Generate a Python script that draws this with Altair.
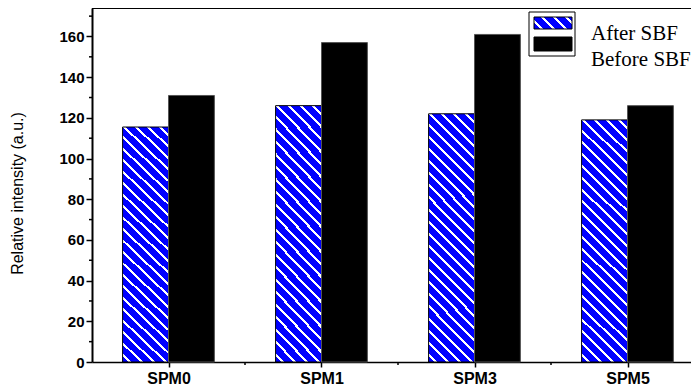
import json
import altair as alt
import pandas as pd

# ---- data ----
categories = ["SPM0", "SPM1", "SPM3", "SPM5"]
positions = [1, 2, 3, 4]
after_sbf = [115.5, 126, 122, 119]
before_sbf = [131, 157, 161, 126]
series_names = ["After SBF", "Before SBF"]
y_major = [0, 20, 40, 60, 80, 100, 120, 140, 160]
y_minor = [10, 30, 50, 70, 90, 110, 130, 150, 170]
x_minor = [1.5, 2.5, 3.5]

# ---- layout ----
W, H = 599, 354
STEP = 153.0
XMIN = 0.5
XMAX = XMIN + W / STEP
YMAX = 174
BW = 0.30  # bar width in category units

FONT = "Liberation Sans"
SERIF = "Liberation Serif"
BLUE = "#0000ff"


def stripe_gradient(k, period_px, white_px, width_px):
    """diagonal white stripes on blue, as a hard-stop linear gradient
    (k = height/width of the shape the gradient is stretched over)"""
    s = (1 + k) / (1 + k * k)
    dt = 1.0 / ((1 + k) * width_px)  # gradient offset per pixel along x
    per = period_px * dt
    wid = white_px * dt
    stops = [{"offset": 0, "color": BLUE}]
    o = per * 0.5
    while o + wid < 1:
        stops += [
            {"offset": round(o, 5), "color": BLUE},
            {"offset": round(o, 5), "color": "#ffffff"},
            {"offset": round(o + wid, 5), "color": "#ffffff"},
            {"offset": round(o + wid, 5), "color": BLUE},
        ]
        o += per
    stops.append({"offset": 1, "color": BLUE})
    return {"gradient": "linear", "x1": 0, "y1": 1,
            "x2": round(s, 4), "y2": round(1 - s * k, 4), "stops": stops}


bar_grad = stripe_gradient(246 / 46.0, 12, 3, 46)
legend_grad = stripe_gradient(12 / 38.0, 12, 3, 38)

df_after = pd.DataFrame({"cat": categories, "pos": positions, "value": after_sbf, "base": 0})
df_before = pd.DataFrame({"cat": categories, "pos": positions, "value": before_sbf, "base": 0})

xscale = alt.Scale(domain=[XMIN, XMAX], nice=False, zero=False)
yscale = alt.Scale(domain=[0, YMAX], nice=False, zero=True)

label_expr = json.dumps(categories) + "[datum.value - 1]"

x_axis = alt.Axis(
    values=positions, labelExpr=label_expr, title=None, grid=False,
    domainColor="black", domainWidth=1.5, tickColor="black", tickWidth=1.5,
    tickSize=5, labelFont=FONT, labelFontWeight="bold", labelFontSize=16,
    labelColor="black", labelPadding=3,
)
y_axis = alt.Axis(
    values=y_major, title="Relative intensity (a.u.)", grid=False,
    domainColor="black", domainWidth=2, tickColor="black", tickWidth=1.5,
    tickSize=6, labelFont=FONT, labelFontWeight="bold", labelFontSize=15,
    labelColor="black", labelPadding=2, titleFont=FONT, titleFontSize=16,
    titleFontWeight="normal", titleColor="black", titleX=-75, titleY=H / 2 + 8,
    titleAngle=270, titleAlign="center", titleBaseline="middle",
)

after_bars = alt.Chart(df_after).transform_calculate(
    x0=f"datum.pos - {BW}", x1="datum.pos"
).mark_rect(fill=bar_grad, stroke="black", strokeWidth=1).encode(
    x=alt.X("x0:Q", scale=xscale, axis=x_axis),
    x2="x1:Q",
    y=alt.Y("value:Q", scale=yscale, axis=y_axis),
    y2="base:Q",
)

before_bars = alt.Chart(df_before).transform_calculate(
    x0="datum.pos", x1=f"datum.pos + {BW}"
).mark_rect(fill="black", stroke="#555555", strokeWidth=1).encode(
    x=alt.X("x0:Q", scale=xscale, axis=x_axis),
    x2="x1:Q",
    y=alt.Y("value:Q", scale=yscale, axis=y_axis),
    y2="base:Q",
)

minor_y = alt.Chart(pd.DataFrame({"v": y_minor})).mark_rule(
    color="black", strokeWidth=1.5
).encode(
    y=alt.Y("v:Q", scale=yscale, axis=y_axis),
    x=alt.value(-3), x2=alt.value(0),
)

minor_x = alt.Chart(pd.DataFrame({"v": x_minor})).mark_rule(
    color="black", strokeWidth=1.5
).encode(
    x=alt.X("v:Q", scale=xscale, axis=x_axis),
    y=alt.value(H), y2=alt.value(H + 3),
)

one = pd.DataFrame({"a": [0]})
top_line = alt.Chart(one).mark_rule(color="black", strokeWidth=2).encode(
    x=alt.value(0), x2=alt.value(W), y=alt.value(0)
)

legend_box = alt.Chart(one).mark_rect(
    fill="white", stroke="black", strokeWidth=1
).encode(x=alt.value(437), x2=alt.value(483), y=alt.value(4), y2=alt.value(48))

legend_sw1 = alt.Chart(one).mark_rect(
    fill=legend_grad, stroke="black", strokeWidth=1
).encode(x=alt.value(442), x2=alt.value(480), y=alt.value(9), y2=alt.value(21))

legend_sw2 = alt.Chart(one).mark_rect(
    fill="black", stroke="black", strokeWidth=1
).encode(x=alt.value(442), x2=alt.value(480), y=alt.value(29), y2=alt.value(43))

legend_text = alt.Chart(pd.DataFrame({"label": series_names, "yy": [32, 58]})).mark_text(
    font=SERIF, fontSize=21, color="black", align="left", baseline="alphabetic"
).encode(x=alt.value(499), y=alt.Y("yy:Q", scale=None), text="label:N")

chart = alt.layer(
    after_bars, before_bars, minor_y, minor_x, top_line,
    legend_box, legend_sw1, legend_sw2, legend_text,
).properties(
    width=W, height=H,
    autosize=alt.AutoSizeParams(type="none"),
    padding={"left": 84, "top": 0, "right": 0, "bottom": 28},
    background="white",
).configure_view(stroke=None)

chart.save("out.html", embed_options={"renderer": "svg", "actions": False})
